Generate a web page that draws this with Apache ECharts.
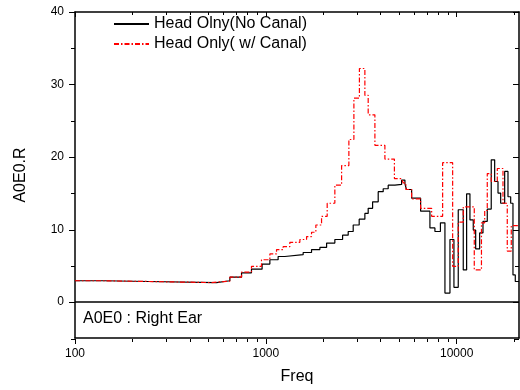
<!DOCTYPE html>
<html>
<head>
<meta charset="utf-8">
<script src="https://cdn.jsdelivr.net/npm/echarts@6/dist/echarts.min.js"></script>
<style>html,body{margin:0;padding:0;background:#fff}#c{width:520px;height:390px}</style>
</head>
<body>
<div id="c"></div>
<script>
// Step curves: each value holds from its frequency until the next one
const freqBlack = [100,141,243,551,648,746,841,956,1050,1160,1258,1569,1736,1920,2082,2300,2525,2702,2870,3085,3304,3439,3627,3881,4122,4378,4747,5148,5357,5456,5808,6474,7244,7694,8222,8682,9224,9678,10195,10830,11280,11740,12220,12580,13200,13740,14470,15180,15820,16470,17010,17850,18580,19190,19730,20290,21220];
const valBlack  = [2.9,2.8,2.65,2.9,3.4,4.0,4.5,5.2,5.8,6.25,6.5,6.8,7.2,7.5,8.1,8.6,9.2,9.7,10.6,11.4,12.2,12.9,13.8,15.2,15.6,16.1,16.2,16.8,16.3,15.5,14.3,12.5,10.2,9.7,10.9,1.2,8.6,2.0,12.7,4.4,14.9,11.3,9.9,7.3,9.5,11.1,12.8,19.6,16.6,15.0,13.6,18.0,14.5,13.6,3.7,2.8,2.8];
const freqRed = [100,141,243,519,648,746,841,949,1050,1138,1232,1336,1508,1635,1736,1829,1959,2097,2300,2495,2724,2894,3093,3304,3439,3729,4207,4719,5148,5248,5422,5808,6474,7394,8444,9528,10195,10830,12370,13490,14030,14470,15180,16330,17490,18420,19330,21220];
const valRed  = [2.9,2.8,2.65,2.85,3.4,4.1,4.9,5.8,6.6,7.2,7.6,8.2,8.6,9.0,9.6,10.6,11.8,13.6,16.1,18.8,22.4,28.1,32.2,28.5,25.8,21.6,19.7,17.0,16.9,16.4,15.5,14.2,12.9,11.8,19.2,4.9,11.0,13.1,4.4,10.9,12.6,17.7,16.6,18.4,13.6,7.0,10.5,10.5];
const seriesNames = ['Head Olny(No Canal)', 'Head Only( w/ Canal)'];
const xMin = 100, xMax = 21220;
const yMin = -5, yMax = 40;
const xMajorTicks = [100, 1000, 10000];
const xMinorTicks = [200,300,400,500,600,700,800,900,2000,3000,4000,5000,6000,7000,8000,9000,20000];
const yMajorTicks = [0, 10, 20, 30, 40];
const yMinorTicks = [-5, 5, 15, 25, 35];
const noteText = 'A0E0 : Right Ear';
const xTitle = 'Freq';
const yTitle = 'A0E0.R';

const FONT = 'Liberation Sans, Arial, sans-serif';
const zip = (xs, ys) => xs.map((x, i) => [x, ys[i]]);
const lg = v => Math.log10(v);
const rect = {left: 75, top: 12, right: 1, bottom: 51};
const axLine = {show: true, onZero: false, lineStyle: {color: '#000', width: 1.5}};
const noLine = {show: false, onZero: false};
const tickStyle = {color: '#000', width: 1};

function overlayX(grid, ticks, len) {
  return ['bottom', 'top'].map(pos => ({
    gridIndex: grid, type: 'value', position: pos, min: lg(xMin), max: lg(xMax),
    axisLine: noLine, splitLine: {show: false}, axisLabel: {show: false},
    axisTick: {show: true, inside: pos === 'top', length: len, lineStyle: tickStyle, customValues: ticks.map(lg)}
  }));
}
function overlayY(grid, ticks, len) {
  return ['left', 'right'].map(pos => ({
    gridIndex: grid, type: 'value', position: pos, min: yMin, max: yMax,
    axisLine: noLine, splitLine: {show: false}, axisLabel: {show: false},
    axisTick: {show: true, inside: pos === 'right', length: len, lineStyle: tickStyle, customValues: ticks}
  }));
}

const xMaj = overlayX(1, xMajorTicks, 5);
const xMin2 = overlayX(2, xMinorTicks, 3);
const yMaj = overlayY(1, yMajorTicks, 6);
const yMin2 = overlayY(2, yMinorTicks, 4);

const chart = echarts.init(document.getElementById('c'), null, {renderer: 'canvas'});
chart.setOption({
  animation: false,
  backgroundColor: '#fff',
  textStyle: {fontFamily: FONT},
  grid: [Object.assign({}, rect), Object.assign({}, rect), Object.assign({}, rect)],
  legend: {
    orient: 'vertical', left: 113, top: 14, padding: 0, itemWidth: 35, itemHeight: 20, itemGap: 0,
    itemStyle: {opacity: 0},
    data: seriesNames,
    textStyle: {fontSize: 16, color: '#000', fontFamily: FONT, lineHeight: 20}
  },
  xAxis: [
    {gridIndex: 0, type: 'log', logBase: 10, position: 'bottom', min: xMin, max: xMax,
     name: xTitle, nameLocation: 'middle', nameGap: 31,
     nameTextStyle: {fontSize: 16, color: '#000', fontFamily: FONT},
     axisLine: axLine, axisTick: {show: false}, splitLine: {show: false}, minorTick: {show: false},
     axisLabel: {show: true, fontSize: 12, color: '#000', fontFamily: FONT, margin: 10, showMaxLabel: false,
       formatter: v => { const l = Math.log10(v); return Math.abs(l - Math.round(l)) < 1e-6 ? String(Math.round(v)) : ''; }}},
    {gridIndex: 0, type: 'log', logBase: 10, position: 'top', min: xMin, max: xMax,
     axisLine: axLine, axisTick: {show: false}, axisLabel: {show: false}, splitLine: {show: false}},
    xMaj[0], xMaj[1], xMin2[0], xMin2[1]
  ],
  yAxis: [
    {gridIndex: 0, type: 'value', position: 'left', min: yMin, max: yMax,
     name: yTitle, nameLocation: 'middle', nameGap: 46,
     nameTextStyle: {fontSize: 16, color: '#000', fontFamily: FONT},
     axisLine: axLine, splitLine: {show: false}, axisTick: {show: false},
     axisLabel: {show: true, fontSize: 12, color: '#000', fontFamily: FONT, margin: 11, customValues: yMajorTicks}},
    {gridIndex: 0, type: 'value', position: 'right', min: yMin, max: yMax,
     axisLine: axLine, splitLine: {show: false}, axisLabel: {show: false}, axisTick: {show: false}},
    yMaj[0], yMaj[1], yMin2[0], yMin2[1]
  ],
  series: [
    {name: seriesNames[0], type: 'line', xAxisIndex: 0, yAxisIndex: 0, step: 'end',
     data: zip(freqBlack, valBlack), symbol: 'none', showSymbol: false, silent: true,
     lineStyle: {color: '#000', width: 1.2}, itemStyle: {color: '#000'},
     markLine: {silent: true, symbol: 'none', label: {show: false},
       lineStyle: {color: '#000', width: 1.5, type: 'solid'}, data: [{yAxis: 0}]}},
    {name: seriesNames[1], type: 'line', xAxisIndex: 0, yAxisIndex: 0, step: 'end',
     data: zip(freqRed, valRed), symbol: 'none', showSymbol: false, silent: true,
     lineStyle: {color: '#ff0000', width: 1.2, type: [5, 2, 1.5, 2]}, itemStyle: {color: '#ff0000'}}
  ],
  graphic: [
    {type: 'text', left: 83, top: 311, silent: true,
     style: {text: noteText, font: '16px ' + FONT, fill: '#000'}}
  ]
});
</script>
</body>
</html>
